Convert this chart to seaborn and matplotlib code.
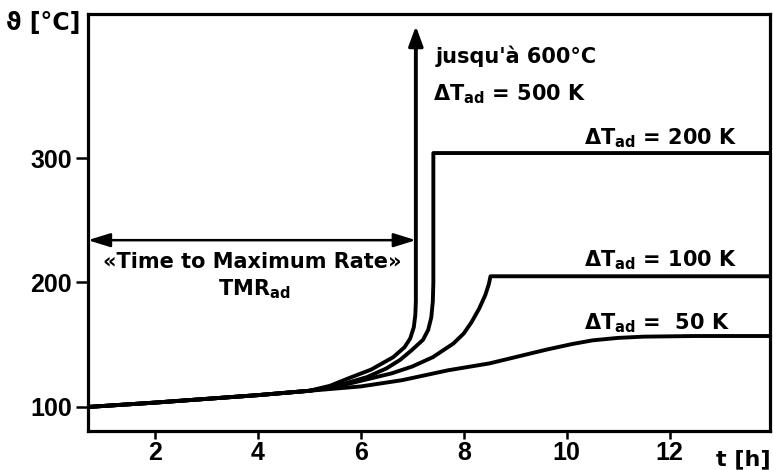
import matplotlib.pyplot as plt
import numpy as np
import pandas as pd
import seaborn as sns

# values: t in h, temperature in °C
t_base = [0.7, 2.0, 3.0, 4.0, 5.0]
v_base = [100, 103.5, 106.5, 109.5, 113]

t_50 = [6.0, 6.8, 7.7, 8.5, 9.1, 9.6, 10.1, 10.5, 11.0, 11.5, 12.5, 13.95]
v_50 = [116.5, 121.5, 129.5, 135, 141, 146, 150.5, 153.5, 155.5, 156.5, 157, 157]

t_100 = [5.4, 5.8, 6.6, 7.0, 7.4, 7.8, 8.0, 8.15, 8.3, 8.42, 8.49, 8.52, 13.95]
v_100 = [115.5, 119, 127, 132.5, 140, 151, 159, 168, 179, 190, 199, 205, 205]

t_200 = [5.5, 6.12, 6.5, 6.77, 7.0, 7.21, 7.31, 7.37, 7.4, 7.41, 7.41, 13.95]
v_200 = [116.5, 124, 131, 138, 146, 154, 162, 172, 185, 200, 304, 304]

t_500 = [5.4, 5.79, 6.2, 6.63, 6.85, 6.96, 7.03, 7.06, 7.07, 7.07]
v_500 = [117, 123.5, 130, 140, 148, 155, 164, 174, 185, 392]

x_ticks = [2, 4, 6, 8, 10, 12]
y_ticks = [100, 200, 300]

tmr_end = 7.07     # end of the TMR arrow
tmr_level = 234

sns.set_style('ticks')
plt.rcParams['font.family'] = ['DejaVu Sans']
plt.rcParams['mathtext.fontset'] = 'dejavusans'
plt.rcParams['text.color'] = 'black'
plt.rcParams['xtick.color'] = 'black'
plt.rcParams['ytick.color'] = 'black'

frames = []
for name, (t, v) in {'50 K': (t_50, v_50), '100 K': (t_100, v_100),
                     '200 K': (t_200, v_200), '500 K': (t_500, v_500)}.items():
    frames.append(pd.DataFrame({'t': t_base + t, 'T': v_base + v, 'dT': name}))
df = pd.concat(frames, ignore_index=True)

fig = plt.figure(figsize=(7.73, 4.70), dpi=100)
ax = fig.add_axes([0.1138, 0.083, 0.8823, 0.8872])

sns.lineplot(data=df, x='t', y='T', hue='dT', palette=['black'] * 4,
             estimator=None, sort=False, linewidth=2.8, legend=False, ax=ax)

ax.set_xlim(0.7, 13.95)
ax.set_ylim(80.7, 415.7)
ax.set_xlabel('')
ax.set_ylabel('')

# arrow head on top of the 500 K curve
ax.annotate('', xy=(7.07, 406), xytext=(7.07, 388),
            arrowprops=dict(arrowstyle='-|>,head_length=0.6,head_width=0.22',
                            mutation_scale=20, lw=2.4, color='black',
                            shrinkA=0, shrinkB=0))
# TMR double arrow
ax.annotate('', xy=(0.7, tmr_level), xytext=(tmr_end, tmr_level),
            arrowprops=dict(arrowstyle='<|-|>,head_length=0.9,head_width=0.28',
                            mutation_scale=15, lw=1.8, color='black',
                            shrinkA=0, shrinkB=0))

txt = dict(fontsize=15, fontweight='bold', color='black')
ax.text(7.45, 376, "jusqu'à 600°C", ha='left', va='baseline', **txt)
ax.text(7.41, 346.5, 'ΔT$_\\mathbf{ad}$ = 500 K', ha='left', va='baseline', **txt)
ax.text(10.33, 311, 'ΔT$_\\mathbf{ad}$ = 200 K', ha='left', va='baseline', **txt)
ax.text(10.33, 213, 'ΔT$_\\mathbf{ad}$ = 100 K', ha='left', va='baseline', **txt)
ax.text(10.33, 162.5, 'ΔT$_\\mathbf{ad}$ =  50 K', ha='left', va='baseline', **txt)
ax.text(3.89, 211.5, '«Time to Maximum Rate»', ha='center', va='baseline', **txt)
ax.text(3.93, 190, 'TMR$_\\mathbf{ad}$', ha='center', va='baseline', **txt)

fig.text(80 / 773, 1 - 30 / 470, 'ϑ [°C]', ha='right', va='baseline',
         fontsize=17, fontweight='bold', color='black')
fig.text(771 / 773, 1 - 465 / 470, 't [h]', ha='right', va='baseline',
         fontsize=16, fontweight='bold', color='black')

ax.set_xticks(x_ticks, labels=[str(x) for x in x_ticks], fontsize=18,
              fontweight='bold', fontfamily='Liberation Sans', color='black')
ax.set_yticks(y_ticks, labels=[str(y) for y in y_ticks], fontsize=18,
              fontweight='bold', fontfamily='Liberation Sans', color='black')
ax.tick_params(axis='x', direction='out', length=5.5, width=1.8, pad=2)
ax.tick_params(axis='y', direction='out', length=8.5, width=1.8, pad=3)

for s in ax.spines.values():
    s.set_visible(True)
    s.set_linewidth(2.3)
    s.set_color('black')

fig.savefig('out.png', dpi=100)
